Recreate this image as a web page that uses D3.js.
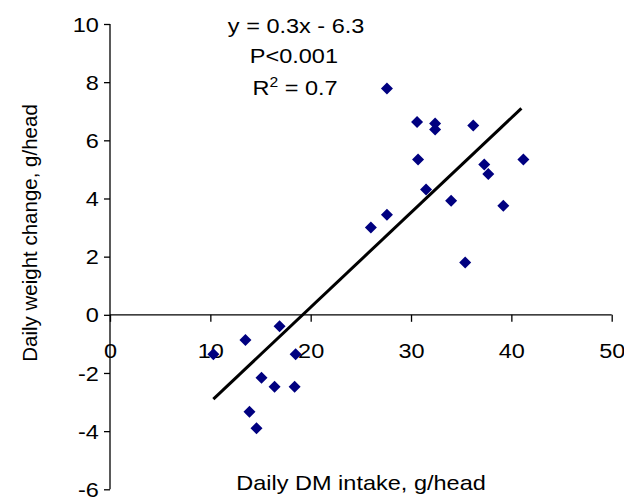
<!DOCTYPE html>
<html>
<head>
<meta charset="utf-8">
<script src="https://cdn.jsdelivr.net/npm/d3@7"></script>
<style>
    body { margin: 0; background: #fff; }
    text { font-family: Arial, "Liberation Sans", sans-serif; fill: #000; }
</style>
</head>
<body>
<div id="chart"></div>
<script>
// DM intake (g/head) and weight change (g/head)
const intake = [27.6, 30.6, 32.4, 32.4, 36.2, 30.7, 41.2, 37.3, 37.7, 31.5, 34.0, 39.2,
                27.6, 26.0, 35.4, 10.3, 13.5, 16.9, 18.5, 15.1, 16.4, 18.4, 13.9, 14.6];
const weightChange = [7.78, 6.63, 6.58, 6.37, 6.51, 5.34, 5.34, 5.17, 4.84, 4.31, 3.92, 3.75,
                      3.44, 3.00, 1.80, -1.36, -0.87, -0.39, -1.36, -2.16, -2.47, -2.47, -3.33, -3.90];
const trendX = [10.3, 41.0];
const trendY = [-2.9, 7.1];
const xTicks = [0, 10, 20, 30, 40, 50];
const yTicks = [-6, -4, -2, 0, 2, 4, 6, 8, 10];
const annotation = ["y = 0.3x - 6.3", "P<0.001", "R2 = 0.7"];

const width = 624;
const height = 498;
const fontSize = 21;
const stretch = "scale(1.12,1)"; // the original text is a bit wide

const svg = d3.select("#chart")
    .append("svg")
    .attr("width", width)
    .attr("height", height);

const x = d3.scaleLinear().domain([0, 50]).range([110, 611.7]);
const y = d3.scaleLinear().domain([-6, 10]).range([489.3, 24]);

// y axis on x = 0
svg.append("g")
    .attr("transform", `translate(${x(0)},0)`)
    .call(d3.axisLeft(y).tickValues(yTicks).tickSize(6).tickPadding(0).tickFormat(d => String(d)))
    .call(g => g.select(".domain").attr("d", `M0,${y(10)}V${y(-6)}`))
    .selectAll("text")
    .attr("x", -10)
    .attr("dy", "0.34em")
    .attr("transform", stretch)
    .style("font-size", fontSize + "px");

// x axis on y = 0
svg.append("g")
    .attr("transform", `translate(0,${y(0)})`)
    .call(d3.axisBottom(x).tickValues(xTicks).tickSize(7).tickPadding(21).tickFormat(d => String(d)))
    .call(g => g.select(".domain").attr("d", `M${x(0)},0H${x(50)}`))
    .selectAll("text")
    .attr("transform", stretch)
    .style("font-size", fontSize + "px");

svg.selectAll(".domain, .tick line")
    .style("stroke", "#000")
    .style("stroke-width", 1.3);

// trend line
svg.append("line")
    .attr("x1", x(trendX[0]))
    .attr("y1", y(trendY[0]))
    .attr("x2", x(trendX[1]))
    .attr("y2", y(trendY[1]))
    .style("stroke", "#000")
    .style("stroke-width", 3);

// points
svg.selectAll(".pt")
    .data(intake)
    .enter().append("path")
    .attr("class", "pt")
    .attr("d", d3.symbol().type(d3.symbolSquare).size(72))
    .attr("transform", (d, i) => `translate(${x(d)},${y(weightChange[i])}) rotate(45)`)
    .style("fill", "#000080");

// equation block
const note = svg.append("g")
    .attr("transform", "translate(295,0) " + stretch)
    .attr("text-anchor", "middle")
    .style("font-size", fontSize + "px");
note.append("text").attr("x", 1).attr("y", 33).text(annotation[0]);
note.append("text").attr("x", -1).attr("y", 63).text(annotation[1]);
const r2 = note.append("text").attr("x", 0).attr("y", 95);
r2.append("tspan").text("R");
r2.append("tspan").attr("dy", -8).style("font-size", "14px").text("2");
r2.append("tspan").attr("dy", 8).text(" = 0.7");

// axis titles
svg.append("text")
    .attr("transform", "translate(361,490) " + stretch)
    .attr("text-anchor", "middle")
    .style("font-size", fontSize + "px")
    .text("Daily DM intake, g/head");

svg.append("text")
    .attr("transform", "translate(37,233) rotate(-90)")
    .attr("text-anchor", "middle")
    .style("font-size", "20.5px")
    .text("Daily weight change, g/head");
</script>
</body>
</html>
